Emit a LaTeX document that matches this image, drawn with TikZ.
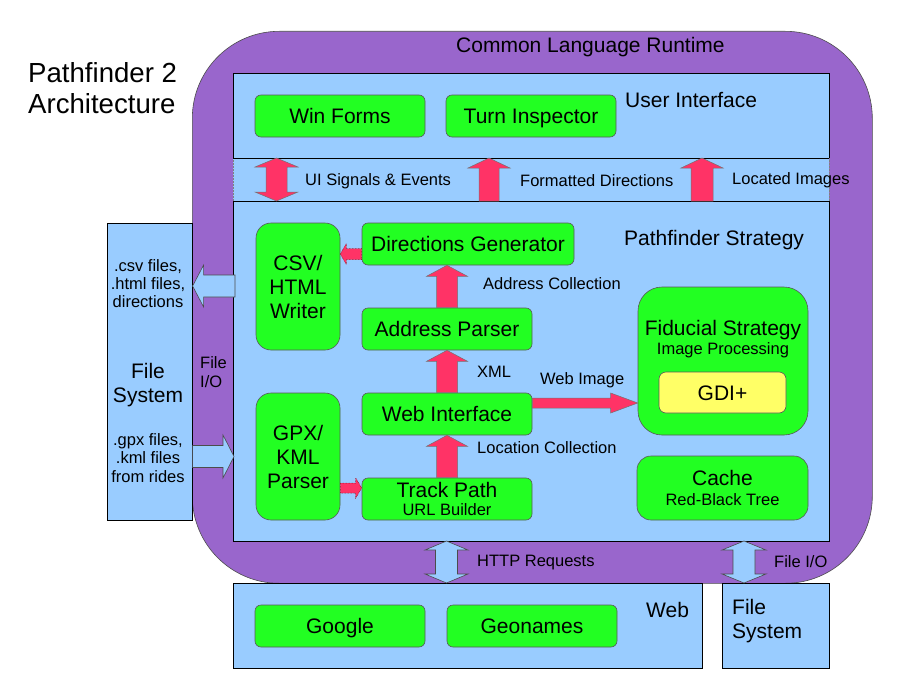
\documentclass[tikz,border=0pt]{standalone}
\usepackage{fontspec}
\setmainfont{Liberation Sans}
\usetikzlibrary{calc}
\definecolor{clrpurple}{HTML}{9966CC}
\definecolor{lblue}{HTML}{99CCFF}
\definecolor{bgreen}{HTML}{22FF22}
\definecolor{gyellow}{HTML}{FFFF66}
\definecolor{ared}{HTML}{FF3366}

\newcommand\fbig{\fontsize{21}{24}\selectfont}
\newcommand\fsml{\fontsize{16.5}{18.5}\selectfont}
\newcommand\fttl{\fontsize{27.6}{31}\selectfont}

% #1 style, #2 start, #3 tip, #4 shaft half width, #5 head half width, #6 head length
\newcommand\fatarrow[6]{%
  \coordinate (faH) at ($(#3)!#6!(#2)$);
  \draw[#1] ($(#2)!#4!90:(#3)$) -- ($(faH)!#4!-90:(#2)$) -- ($(faH)!#5!-90:(#2)$) -- (#3)
    -- ($(faH)!#5!90:(#2)$) -- ($(faH)!#4!90:(#2)$) -- ($(#2)!#4!-90:(#3)$) -- cycle;}
\newcommand\dblarrow[6]{%
  \coordinate (daA) at ($(#2)!#6!(#3)$);
  \coordinate (daB) at ($(#3)!#6!(#2)$);
  \draw[#1] (#2) -- ($(daA)!#5!90:(#3)$) -- ($(daA)!#4!90:(#3)$) -- ($(daB)!#4!-90:(#2)$)
    -- ($(daB)!#5!-90:(#2)$) -- (#3) -- ($(daB)!#5!90:(#2)$) -- ($(daB)!#4!90:(#2)$)
    -- ($(daA)!#4!-90:(#3)$) -- ($(daA)!#5!-90:(#3)$) -- cycle;}

\begin{document}
\begin{tikzpicture}[x=1pt,y=-1pt,
  sz/.style 2 args={minimum width=#1, minimum height=#2},
  gbox/.style={draw=black!65, line width=0.6pt, fill=bgreen, rounded corners=6pt,
    inner sep=0pt, font=\fbig, text height=15pt, text depth=0pt},
  gboxm/.style={draw=black!65, line width=0.6pt, fill=bgreen, rounded corners=15pt,
    inner sep=0pt, font=\fbig, align=center},
  panel/.style={draw=black, line width=0.8pt, fill=lblue, inner sep=0pt, anchor=north west},
  lbl/.style={anchor=base west, inner sep=0pt, font=\fsml},
  lblc/.style={anchor=base, inner sep=0pt, font=\fsml},
  lblbig/.style={anchor=base west, inner sep=0pt, font=\fbig},
  lblbigc/.style={anchor=base, inner sep=0pt, font=\fbig},
  redarr/.style={fill=ared, draw=black!55, line width=0.5pt},
  dotarr/.style={fill=ared, draw=red!45!black, densely dotted, line width=0.5pt},
  bluearr/.style={fill=lblue, draw=black!70, line width=0.6pt}]
\useasboundingbox (0,0) rectangle (897,693);

% title
\node[anchor=base west, inner sep=0pt, font=\fttl] (title1) at (28,82) {Pathfinder 2};
\node[anchor=base west, inner sep=0pt, font=\fttl] (title2) at (28,113) {Architecture};

% common language runtime
\node[draw=black!70, line width=0.6pt, fill=clrpurple, rounded corners=87pt, sz={680}{552},
  anchor=north west, inner sep=0pt] (clr) at (192,31) {};
\node[lblbig] (clrlbl) at (456,53) {Common Language Runtime};

% panels
\node[panel, sz={596}{85}] (ui) at (233,73) {};
\node[fill=lblue, inner sep=0pt, anchor=north west, sz={596}{43}] (band) at (233,158) {};
\draw[black!50, densely dotted, line width=0.5pt] (band.north west) -- (band.south west)
  (band.north east) -- (band.south east);
\draw[black, line width=0.8pt] (band.north west) -- (band.north east);
\node[panel, sz={596}{340}] (strat) at (233,201) {};

\node[lblbig] (uilbl) at (625,107) {User Interface};
\node[lblbig] (stratlbl) at (624,245) {Pathfinder Strategy};

% UI boxes
\node[gbox, sz={170}{42}] (winforms) at (340,116) {Win Forms};
\node[gbox, sz={170}{42}] (turn) at (531,116) {Turn Inspector};

% band arrows
\coordinate (sigT) at (276.5,158);
\coordinate (sigB) at (276.5,201);
\coordinate (fdT) at (489,158);
\coordinate (fdB) at (489,201);
\coordinate (liT) at (702,158);
\coordinate (liB) at (702,201);
\dblarrow{redarr}{sigT}{sigB}{10.5pt}{21.5pt}{9pt}
\fatarrow{redarr}{fdB}{fdT}{10pt}{21pt}{10pt}
\fatarrow{redarr}{liB}{liT}{11pt}{21pt}{10pt}
\node[lbl] (siglbl) at (305,185) {UI Signals \& Events};
\node[lbl] (fdlbl) at (520,186) {Formatted Directions};
\node[lbl] (lilbl) at (732,184) {Located Images};

% strategy boxes
\node[gboxm, sz={84}{127}] (csv) at (298,286.5) {CSV/\\HTML\\Writer};
\node[gboxm, sz={84}{127}] (gpx) at (298,456.5) {GPX/\\KML\\Parser};
\node[gbox, sz={212}{42}] (dirgen) at (468,244) {Directions Generator};
\node[gbox, sz={170}{42}] (addr) at (447,329) {Address Parser};
\node[gbox, sz={170}{42}] (web) at (447,414) {Web Interface};
\node[gbox, sz={170}{42}] (track) at (447,499) {};
\node[lblbigc] (tracklbl) at (447,497) {Track Path};
\node[lblc] (urllbl) at (447,515) {URL Builder};

\node[gbox, rounded corners=24pt, sz={170}{148}] (fid) at (723,361) {};
\node[lblbigc] (fidlbl) at (723,335) {Fiducial Strategy};
\node[lblc] (fidsub) at (723,354) {Image Processing};
\node[gbox, fill=gyellow, rounded corners=7pt, sz={127}{41}] (gdi) at (722.5,392.5) {GDI+};

\node[gbox, rounded corners=14pt, sz={171}{64}] (cache) at (722.5,488) {};
\node[lblbigc] (cachelbl) at (722.5,485) {Cache};
\node[lblc] (cachesub) at (722.5,505) {Red-Black Tree};

% strategy arrows
\coordinate (acT) at (addr.north |- dirgen.south);
\fatarrow{redarr}{addr.north}{acT}{10.5pt}{20.5pt}{11pt}
\fatarrow{redarr}{web.north}{addr.south}{10.5pt}{20.5pt}{11pt}
\fatarrow{redarr}{track.north}{web.south}{10.5pt}{20.5pt}{11pt}
\coordinate (wiS) at ($(web.east)+(0,-11)$);
\coordinate (wiT) at (wiS -| fid.west);
\fatarrow{redarr}{wiS}{wiT}{5pt}{10pt}{27pt}
\coordinate (dgS) at ($(dirgen.west)+(0,10)$);
\coordinate (dgT) at (dgS -| csv.east);
\fatarrow{dotarr}{dgS}{dgT}{5.5pt}{10.5pt}{6pt}
\coordinate (gpT) at ($(track.west)+(0,-11)$);
\coordinate (gpS) at (gpT -| gpx.east);
\fatarrow{dotarr}{gpS}{gpT}{5pt}{10pt}{6pt}

\node[lbl] (aclbl) at (483,289) {Address Collection};
\node[lbl] (xmllbl) at (477,377) {XML};
\node[lbl] (wilbl) at (540,384) {Web Image};
\node[lbl] (lclbl) at (477,453) {Location Collection};

% left file system
\node[panel, line width=0.6pt, sz={85}{297}] (fsl) at (107,223) {};
\node[lblc] (fs1) at (148,271) {.csv files,};
\node[lblc] (fs2) at (148,289) {.html files,};
\node[lblc] (fs3) at (148,307) {directions};
\node[lblbigc] (fs4) at (148,378) {File};
\node[lblbigc] (fs5) at (148,402) {System};
\node[lblc] (fs6) at (148,445) {.gpx files,};
\node[lblc] (fs7) at (148,463) {.kml files};
\node[lblc] (fs8) at (148,482) {from rides};
\node[lbl] (fio1) at (200,368) {File};
\node[lbl] (fio2) at (200,387) {I/O};

\coordinate (ofS) at (235,286);
\coordinate (ofT) at (fsl.east |- ofS);
\fatarrow{bluearr}{ofS}{ofT}{11pt}{21pt}{11pt}
\coordinate (ifT) at (234,456.5);
\coordinate (ifS) at (fsl.east |- ifT);
\fatarrow{bluearr}{ifS}{ifT}{11pt}{21.5pt}{11pt}

% bottom
\node[panel, line width=0.6pt, sz={469}{85}] (webbox) at (233,583) {};
\node[panel, line width=0.6pt, sz={107}{85}] (fsr) at (722,583) {};
\node[lblbig] (weblbl) at (646,617) {Web};
\node[lblbig] (fsr1) at (732,614) {File};
\node[lblbig] (fsr2) at (732,638) {System};
\node[gbox, sz={170}{42}] (google) at (340,626) {Google};
\node[gbox, sz={170}{42}] (geo) at (532,626) {Geonames};

\coordinate (htT) at (446.5,541);
\coordinate (htB) at (446.5,583);
\coordinate (fiT) at (744,541);
\coordinate (fiB) at (744,583);
\dblarrow{bluearr}{htT}{htB}{11pt}{21.5pt}{9pt}
\dblarrow{bluearr}{fiT}{fiB}{11pt}{22pt}{9pt}
\node[lbl] (htlbl) at (477,566) {HTTP Requests};
\node[lbl] (filbl) at (774,567) {File I/O};
\end{tikzpicture}
\end{document}
